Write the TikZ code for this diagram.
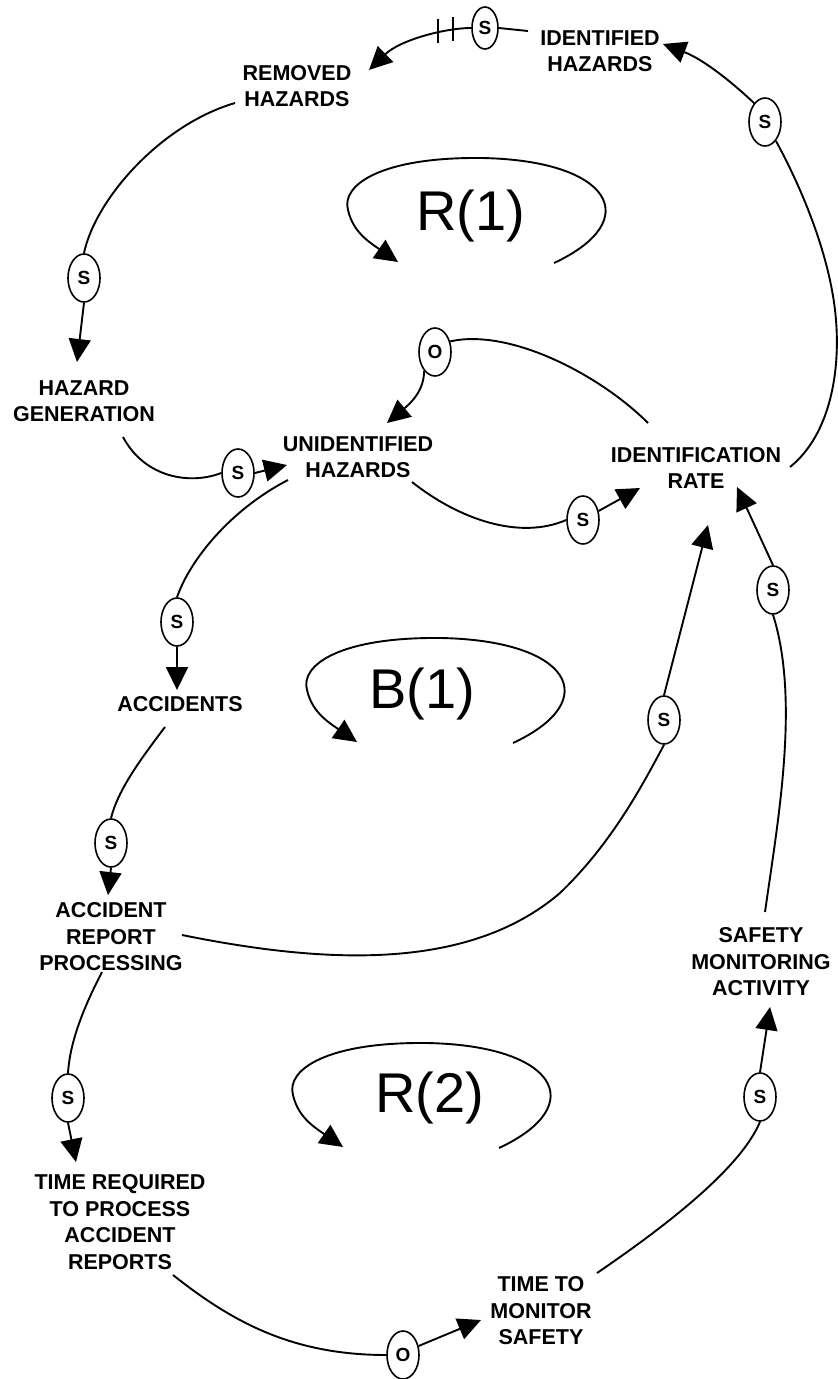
\documentclass[tikz,border=0pt]{standalone}
\usepackage{fontspec}
\setmainfont{Liberation Sans}
\usetikzlibrary{arrows.meta,shapes.geometric}
\begin{document}
\begin{tikzpicture}[x=1pt,y=-1pt,
  lbl/.style={align=center,font=\fontsize{21.5}{26.5}\selectfont\bfseries,inner sep=0pt},
  big/.style={font=\fontsize{56}{60}\selectfont,inner sep=0pt,anchor=base},
  pol/.style={draw,ellipse,line width=1.6pt,minimum width=32pt,minimum height=48pt,inner sep=0pt,font=\fontsize{19}{19}\selectfont\bfseries,fill=white},
  con/.style={line width=1.9pt},
  arr/.style={con,-{Triangle[length=23pt,width=22pt]}},
]
\fill[white] (0,0) rectangle (838,1379);
\useasboundingbox (0,0) rectangle (838,1379);

% variable labels
\node[lbl] (idh) at (600,51) {IDENTIFIED\\HAZARDS};
\node[lbl] (remh) at (297,86) {REMOVED\\HAZARDS};
\node[lbl] (hgen) at (84,401) {HAZARD\\GENERATION};
\node[lbl] (unh) at (358,457) {UNIDENTIFIED\\HAZARDS};
\node[lbl] (irate) at (696,468) {IDENTIFICATION\\RATE};
\node[lbl] (acc) at (180,704) {ACCIDENTS};
\node[lbl] (arp) at (111,937) {ACCIDENT\\REPORT\\PROCESSING};
\node[lbl] (sma) at (761,962) {SAFETY\\MONITORING\\ACTIVITY};
\node[lbl] (treq) at (120,1222) {TIME REQUIRED\\TO PROCESS\\ACCIDENT\\REPORTS};
\node[lbl] (tms) at (541,1311) {TIME TO\\MONITOR\\SAFETY};

% loop labels
\node[big] (r1) at (471,230) {R(1)};
\node[big] (b1) at (422,708) {B(1)};
\node[big] (r2) at (430,1112) {R(2)};

% polarity ellipses
\node[pol,minimum width=26pt,minimum height=42pt] (sA) at (485,28) {S};
\node[pol] (sB) at (765,122) {S};
\node[pol] (sC) at (84,278) {S};
\node[pol] (sD) at (238,473) {S};
\node[pol] (oE) at (435,352) {O};
\node[pol] (sF) at (583,520) {S};
\node[pol] (sG) at (177,622) {S};
\node[pol] (sH) at (111,843) {S};
\node[pol] (sI) at (664,720) {S};
\node[pol] (sJ) at (773,590) {S};
\node[pol] (sK) at (68,1098) {S};
\node[pol] (oL) at (403,1355) {O};
\node[pol] (sM) at (760,1097) {S};

% connector end points
\coordinate (c1) at (790,467);
\coordinate (c1a) at (663,44);
\coordinate (c2) at (528,31);
\coordinate (c2a) at (369,70);
\coordinate (c3) at (235,103);
\coordinate (c3a) at (77,362);
\coordinate (c4) at (123,437);
\coordinate (c4a) at (287,465);
\coordinate (c5) at (412,482);
\coordinate (c5a) at (640,488);
\coordinate (c6) at (648,423);
\coordinate (c6a) at (387,423);
\coordinate (c7) at (288,480);
\coordinate (c7a) at (177,690);
\coordinate (c8) at (165,727);
\coordinate (c8a) at (108,895);
\coordinate (c9) at (182,935);
\coordinate (c9a) at (708,525);
\coordinate (c10) at (765,912);
\coordinate (c10a) at (737,487);
\coordinate (c11) at (102,972);
\coordinate (c11a) at (76,1162);
\coordinate (c12) at (173,1275);
\coordinate (c12a) at (481,1320);
\coordinate (c13) at (597,1273);
\coordinate (c13a) at (770,1007);

% connectors
\draw[con] (c1) .. controls (830,435) and (842,370) .. (835,310) .. controls (828,250) and (800,185) .. (sB.-60);
\draw[arr] (sB.120) .. controls (735,85) and (705,60) .. (c1a);
\draw[con] (c2) -- (sA.east);
\draw[arr] (sA.west) .. controls (445,28) and (400,40) .. (c2a);
\draw[con] (438,19) -- (438,43);
\draw[con] (453,17) -- (453,41);
\draw[con] (c3) .. controls (160,125) and (95,200) .. (sC.north);
\draw[arr] (sC.south) -- (c3a);
\draw[con] (c4) .. controls (145,478) and (190,485) .. (sD.west);
\draw[arr] (sD.east) -- (c4a);
\draw[con] (c5) .. controls (460,520) and (520,540) .. (sF.west);
\draw[arr] (sF.30) -- (c5a);
\draw[con] (c6) .. controls (600,375) and (510,328) .. (oE.35);
\draw[arr] (oE.-120) .. controls (424,390) and (412,402) .. (c6a);
\draw[con] (c7) .. controls (230,510) and (190,560) .. (sG.north);
\draw[arr] (sG.south) -- (c7a);
\draw[con] (c8) .. controls (140,760) and (118,790) .. (sH.north);
\draw[arr] (sH.south) -- (c8a);
\draw[con] (c9) .. controls (330,965) and (470,970) .. (560,893) .. controls (610,845) and (640,790) .. (sI.south);
\draw[arr] (sI.north) -- (c9a);
\draw[con] (c10) .. controls (778,820) and (800,700) .. (sJ.south);
\draw[arr] (sJ.north) -- (c10a);
\draw[con] (c11) .. controls (85,1005) and (70,1040) .. (sK.north);
\draw[arr] (sK.south) -- (c11a);
\draw[con] (c12) .. controls (230,1320) and (290,1355) .. (oL.west);
\draw[arr] (oL.30) -- (c12a);
\draw[con] (c13) .. controls (660,1230) and (740,1170) .. (sM.south);
\draw[arr] (sM.north) -- (c13a);

% loop arrows
\begin{scope}[shift={(41,-480)}]
\draw[arr] (513,743) .. controls (605,700) and (570,640) .. (440,638) .. controls (340,637) and (300,665) .. (307,690) .. controls (312,712) and (328,722) .. (357,742);
\end{scope}
\draw[arr] (513,743) .. controls (605,700) and (570,640) .. (440,638) .. controls (340,637) and (300,665) .. (307,690) .. controls (312,712) and (328,722) .. (357,742);
\begin{scope}[shift={(-14,405)}]
\draw[arr] (513,743) .. controls (605,700) and (570,640) .. (440,638) .. controls (340,637) and (300,665) .. (307,690) .. controls (312,712) and (328,722) .. (357,742);
\end{scope}
\end{tikzpicture}
\end{document}
